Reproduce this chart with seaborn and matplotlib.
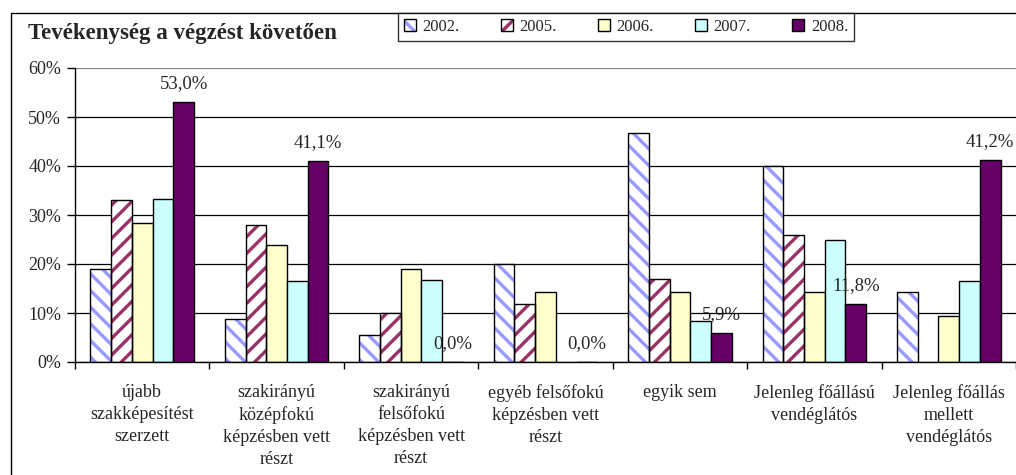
import numpy as np
import pandas as pd
import matplotlib
matplotlib.use("Agg")
import matplotlib.pyplot as plt
from matplotlib.patches import Patch, Rectangle
import seaborn as sns

categories = [
    "újabb\nszakképesítést\nszerzett",
    "szakirányú\nközépfokú\nképzésben vett\nrészt",
    "szakirányú\nfelsőfokú\nképzésben vett\nrészt",
    "egyéb felsőfokú\nképzésben vett\nrészt",
    "egyik sem",
    "Jelenleg főállású\nvendéglátós",
    "Jelenleg főállás\nmellett\nvendéglátós",
]
years = ["2002.", "2005.", "2006.", "2007.", "2008."]
v2002 = [18.9, 8.8, 5.6, 20.0, 46.7, 40.1, 14.3]
v2005 = [33.1, 27.9, 9.9, 11.8, 17.0, 26.0, np.nan]
v2006 = [28.4, 23.8, 18.9, 14.3, 14.3, 14.3, 9.4]
v2007 = [33.3, 16.5, 16.7, np.nan, 8.3, 24.9, 16.5]
v2008 = [53.0, 41.1, 0.0, 0.0, 5.9, 11.8, 41.2]
yticks = [0, 10, 20, 30, 40, 50, 60]
title = "Tevékenység a végzést követően"

series = [v2002, v2005, v2006, v2007, v2008]
rows = []
for yr, vals in zip(years, series):
    for c, v in zip(categories, vals):
        rows.append({"cat": c, "year": yr, "val": v})
df = pd.DataFrame(rows)

face = {"2002.": "white", "2005.": "white", "2006.": "#FFFFCC",
        "2007.": "#CCFFFF", "2008.": "#660066"}
stripe = {"2002.": "#9999FF", "2005.": "#993366"}
hatch = {"2002.": "\\\\", "2005.": "//"}

sns.set_style("white")
plt.rcParams["font.family"] = ["Liberation Serif", "DejaVu Serif"]
plt.rcParams["hatch.linewidth"] = 2.4

fig = plt.figure(figsize=(10.16, 4.75), dpi=100)
ax = fig.add_axes([75 / 1016, 1 - 362 / 475, 1 - 75 / 1016, (362 - 68) / 475])

sns.barplot(data=df, x="cat", y="val", hue="year", order=categories,
            hue_order=years, palette=face, width=0.77, gap=0,
            errorbar=None, edgecolor="black", linewidth=1.0,
            saturation=1, ax=ax, legend=False)

for yr, cont in zip(years, ax.containers):
    if yr in stripe:
        for p in cont.patches:
            p.set_hatch(hatch[yr])
            p.set_edgecolor(stripe[yr])
            p.set_linewidth(0)
            ax.add_patch(Rectangle(p.get_xy(), p.get_width(), p.get_height(),
                                   fill=False, edgecolor="black", lw=1.0,
                                   zorder=p.get_zorder() + 0.1))
    if yr == "2008.":
        labels = [f"{v:.1f}".replace(".", ",") + "%" for v in v2008]
        ax.bar_label(cont, labels=labels, padding=7, fontsize=13.5)

ax.set_xlim(-0.5, len(categories) - 0.5)
ax.set_ylim(0, 60)
ax.set_yticks(yticks)
ax.set_yticklabels([f"{t}%" for t in yticks], fontsize=13)
ax.yaxis.grid(True, color="black", lw=0.9)
ax.get_ygridlines()[-1].set_color("#808080")
ax.set_axisbelow(True)
ax.set_xlabel("")
ax.set_ylabel("")

ax.set_xticks(np.arange(len(categories) + 1) - 0.5)
ax.set_xticklabels([])
ax.set_xticks(np.arange(len(categories)), minor=True)
ax.set_xticklabels(categories, minor=True, fontsize=13, linespacing=1.38, va="top")
ax.tick_params(axis="x", which="major", direction="out", length=5, width=1, color="black", bottom=True)
ax.tick_params(axis="x", which="minor", length=0, pad=16)
ax.tick_params(axis="y", direction="out", length=6, width=1, color="black", left=True, pad=4)

for s in ["top", "right"]:
    ax.spines[s].set_visible(False)
for s in ["left", "bottom"]:
    ax.spines[s].set_color("black")
    ax.spines[s].set_linewidth(1)

fig.text(28 / 1016, 1 - 33 / 475, title, fontsize=16.5, fontweight="bold",
         ha="left", va="center")

handles = []
for yr in years:
    if yr in stripe:
        h1 = Patch(facecolor="white", edgecolor=stripe[yr], hatch=hatch[yr], lw=0)
        h2 = Patch(facecolor="none", edgecolor="black", lw=1)
        handles.append((h1, h2))
    else:
        handles.append(Patch(facecolor=face[yr], edgecolor="black", lw=1))

leg = fig.legend(handles, years, loc="center", ncol=5, mode="expand",
                 bbox_to_anchor=(398 / 1016, 1 - 41 / 475, 456 / 1016, 28 / 475),
                 frameon=True, fancybox=False, fontsize=12,
                 handlelength=0.7, handleheight=0.7, handletextpad=0.4,
                 borderpad=0.35, borderaxespad=0)
leg.get_frame().set_edgecolor("black")
leg.get_frame().set_linewidth(1)

fig.add_artist(Rectangle((11 / 1016, -0.05), 1.1, 1.05 - 13 / 475,
                         transform=fig.transFigure, fill=False,
                         edgecolor="black", lw=1))

fig.savefig("out.png", dpi=100)
